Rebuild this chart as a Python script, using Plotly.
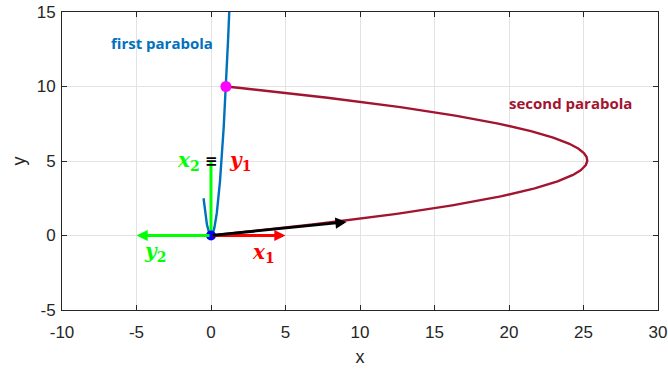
import numpy as np
import plotly.graph_objects as go

# First parabola: y = a1 * x^2
a1 = 10.0
x1_start, x1_end = -0.5, 1.23

# Second parabola (opening to the left): x = a2 * y^2 + b2 * y
a2, b2 = -0.99, 10.0
y2_start, y2_end = 0.0, 10.0

# Marked points
origin_pt = [0.0, 0.0]
meet_pt = [1.0, 10.0]

# Frame vectors drawn from the origin: (tail_x, tail_y, tip_x, tip_y)
vec_x1 = [0.0, 0.0, 5.0, 0.0]
vec_y2 = [0.0, 0.0, -5.0, 0.0]
vec_x2 = [0.0, 0.0, 0.0, 5.0]
vec_tan = [0.0, 0.0, 9.1, 0.91]

# Axis ticks
x_ticks = [-10, -5, 0, 5, 10, 15, 20, 25, 30]
y_ticks = [-5, 0, 5, 10, 15]

BLUE = "#0072BD"
DARKRED = "#A2142F"
GREEN = "#00FF00"
RED = "#FF0000"
INK = "#262626"

xa = np.linspace(x1_start, x1_end, 200)
ya = a1 * xa ** 2
yb = np.linspace(y2_start, y2_end, 300)
xb = a2 * yb ** 2 + b2 * yb

fig = go.Figure()

fig.add_trace(go.Scatter(x=xb, y=yb, mode="lines",
                         line=dict(color=DARKRED, width=2.4), hoverinfo="skip"))
fig.add_trace(go.Scatter(x=xa, y=ya, mode="lines",
                         line=dict(color=BLUE, width=2.4), hoverinfo="skip"))

# Vertical green vector (no head) and horizontal vectors
fig.add_trace(go.Scatter(x=[vec_x2[0], vec_x2[2]], y=[vec_x2[1], vec_x2[3]], mode="lines",
                         line=dict(color=GREEN, width=3), hoverinfo="skip"))

arrows = [
    (vec_y2, GREEN),
    (vec_x1, RED),
    (vec_tan, "black"),
]
for v, c in arrows:
    fig.add_annotation(x=v[2], y=v[3], ax=v[0], ay=v[1], xref="x", yref="y",
                       axref="x", ayref="y", text="", showarrow=True,
                       arrowhead=2, arrowsize=0.8, arrowwidth=2.8, arrowcolor=c)

# Points
fig.add_trace(go.Scatter(x=[meet_pt[0]], y=[meet_pt[1]], mode="markers",
                         marker=dict(color="#FF00FF", size=11), hoverinfo="skip"))
fig.add_trace(go.Scatter(x=[origin_pt[0]], y=[origin_pt[1]], mode="markers",
                         marker=dict(color="#0000FF", size=10), hoverinfo="skip"))

# Small black head mark at the tip of the vertical vector
fig.add_annotation(x=vec_x2[2], y=vec_x2[3], text="<b>≡</b>", showarrow=False,
                   font=dict(family="DejaVu Sans", size=15, color="black"))

# Curve labels
fig.add_annotation(x=-3.3, y=12.95, text="<b>first parabola</b>", showarrow=False,
                   font=dict(family="Open Sans", size=15, color=BLUE))
fig.add_annotation(x=24.1, y=8.86, text="<b>second parabola</b>", showarrow=False,
                   font=dict(family="Open Sans", size=15, color=DARKRED))

# Vector labels
math_font = "DejaVu Serif"
vec_labels = [
    (-1.5, 5.0, "x", "2", GREEN),
    (1.95, 5.0, "y", "1", RED),
    (-3.75, -1.1, "y", "2", GREEN),
    (3.5, -1.15, "x", "1", RED),
]
for lx, ly, base, sub, c in vec_labels:
    fig.add_annotation(x=lx, y=ly, text=f"<b><i>{base}</i><sub>{sub}</sub></b>",
                       showarrow=False,
                       font=dict(family=math_font, size=20, color=c))

axis_common = dict(
    showgrid=True, gridcolor="#E3E3E3", gridwidth=1,
    zeroline=False, showline=True, linecolor=INK, linewidth=1,
    mirror="ticks", ticks="inside", ticklen=5, tickcolor=INK,
    tickfont=dict(family="Liberation Sans", size=17, color=INK),
    automargin=False,
)

fig.update_xaxes(range=[-10, 30], tickvals=x_ticks,
                 ticktext=[str(t) for t in x_ticks], ticklabelstandoff=7,
                 title=dict(text="x", standoff=8,
                            font=dict(family="Liberation Sans", size=18, color=INK)),
                 **axis_common)
fig.update_yaxes(range=[-5, 15], tickvals=y_ticks,
                 ticktext=[str(t) for t in y_ticks], ticklabelstandoff=2,
                 title=dict(text="y", standoff=6,
                            font=dict(family="Liberation Sans", size=18, color=INK)),
                 **axis_common)

fig.update_layout(
    width=668, height=369,
    margin=dict(l=62, r=10, t=12, b=59),
    paper_bgcolor="white", plot_bgcolor="white",
    showlegend=False,
)

fig.write_html("out.html")
